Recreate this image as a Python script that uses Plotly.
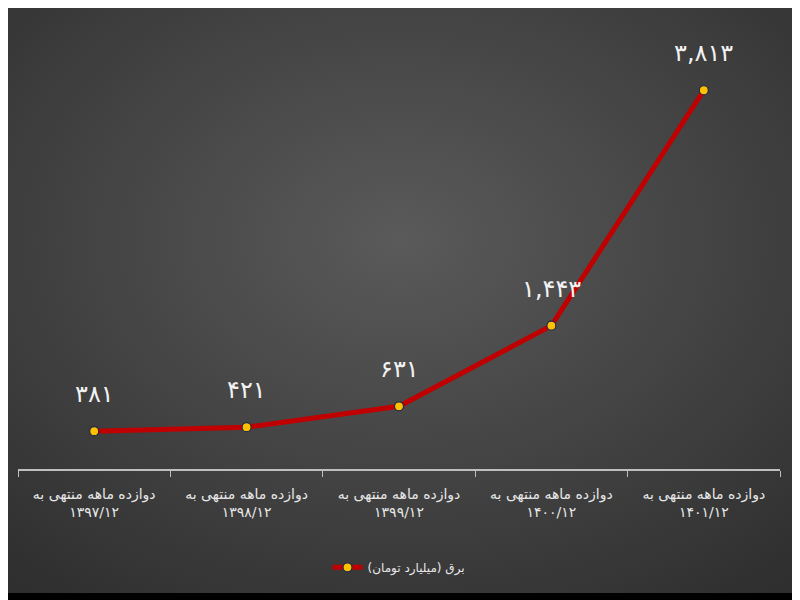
import base64
import plotly.graph_objects as go

# ---- data ----
categories = [
    "دوازده ماهه منتهی به<br>۱۳۹۷/۱۲",
    "دوازده ماهه منتهی به<br>۱۳۹۸/۱۲",
    "دوازده ماهه منتهی به<br>۱۳۹۹/۱۲",
    "دوازده ماهه منتهی به<br>۱۴۰۰/۱۲",
    "دوازده ماهه منتهی به<br>۱۴۰۱/۱۲",
]
values = [381, 421, 631, 1443, 3813]
value_labels = ["۳۸۱", "۴۲۱", "۶۳۱", "۱,۴۴۳", "۳,۸۱۳"]
series_name = "برق (میلیارد تومان)"

FONT = "DejaVu Sans"
LINE_RED = "#C00000"
MARKER_YELLOW = "#FFC000"

# radial gradient background as an svg data uri
svg = """<svg xmlns='http://www.w3.org/2000/svg' width='800' height='600'>
<defs><radialGradient id='g' cx='0.5' cy='0.4' r='0.75'>
<stop offset='0' stop-color='#5a5a5a'/>
<stop offset='1' stop-color='#2f2f2f'/>
</radialGradient></defs>
<rect width='800' height='600' fill='url(#g)'/></svg>"""
bg_uri = "data:image/svg+xml;base64," + base64.b64encode(svg.encode()).decode()

# the page puts the figure 8px in from the corner, so work in figure pixels
OFF = 8
W, H = 800 - OFF, 600 - OFF
L, R, T, B = 18 - OFF, 780 - OFF, 22 - OFF, 469 - OFF
pw, ph = R - L, B - T
# grey area (page pixels 3..797 x 3..593)
gx0, gx1, gy0, gy1 = 3 - OFF, 797 - OFF, 3 - OFF, 593 - OFF

fig = go.Figure()
fig.add_trace(go.Scatter(
    x=categories, y=values, mode="lines+markers", name=series_name,
    line=dict(color=LINE_RED, width=5),
    marker=dict(color=MARKER_YELLOW, size=9, line=dict(color="#1f2a4a", width=1.2)),
    hoverinfo="skip",
))

for c, v, t in zip(categories, values, value_labels):
    fig.add_annotation(
        x=c, y=v, text=t, showarrow=False, yshift=37,
        font=dict(family=FONT, size=24, color="#f2f2f2"),
    )

fig.add_layout_image(dict(
    source=bg_uri, xref="paper", yref="paper",
    x=(gx0 - L) / pw, y=(B - gy0) / ph,
    sizex=(gx1 - gx0) / pw, sizey=(gy1 - gy0) / ph,
    sizing="stretch", xanchor="left", yanchor="top", layer="below",
))

fig.update_layout(
    width=W, height=H,
    paper_bgcolor="black", plot_bgcolor="rgba(0,0,0,0)",
    margin=dict(l=L, r=W - R, t=T, b=H - B),
    showlegend=True,
    legend=dict(
        orientation="h", x=0.5, xanchor="center", y=-0.22, yanchor="middle",
        font=dict(family=FONT, size=12, color="#e8e8e8"),
        bgcolor="rgba(0,0,0,0)",
    ),
    xaxis=dict(
        showgrid=False, zeroline=False,
        showline=True, linecolor="#bfbfbf", linewidth=1.5,
        ticks="outside", ticklen=6, tickcolor="#bfbfbf", tickson="boundaries",
        tickfont=dict(family=FONT, size=14, color="#e8e8e8"),
        ticklabelstandoff=11,
        range=[-0.5, 4.5],
    ),
    yaxis=dict(
        range=[0, 4500], visible=False, showgrid=False, zeroline=False,
    ),
)

fig.write_html("out.html")
